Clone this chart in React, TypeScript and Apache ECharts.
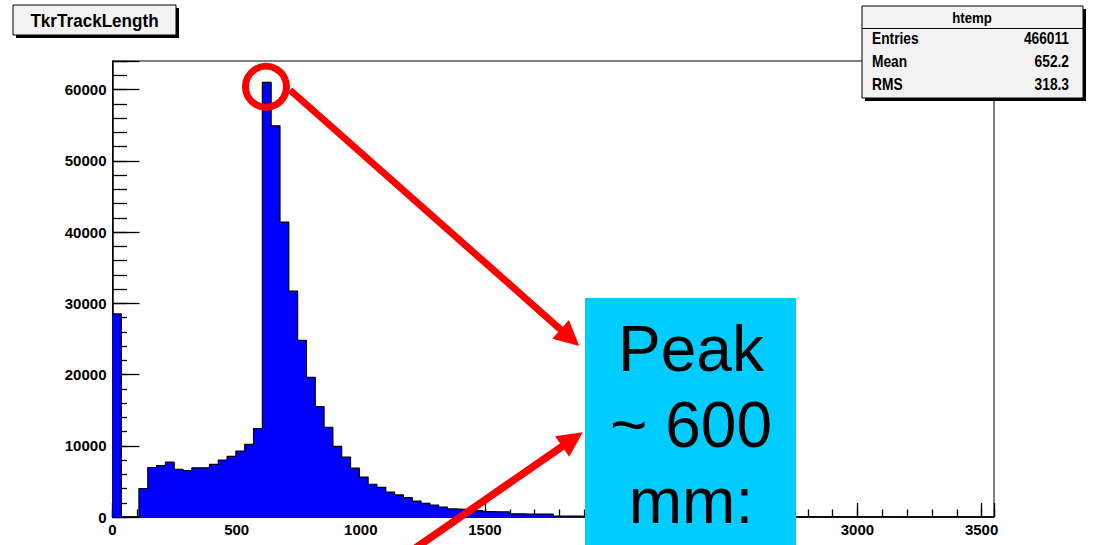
import React, { useEffect, useRef } from "react";
import * as echarts from "echarts";

// Histogram "TkrTrackLength": 100 bins over [0, 3550]
const histRange = [0, 3550];
const binCounts = [
  28500, 0, 0, 4000, 6950, 7200, 7700, 6700, 6500, 6900,
  6900, 7400, 8000, 8500, 9250, 10200, 12400, 61000, 54900, 41400,
  31700, 24800, 19600, 15500, 12600, 9900, 8400, 6850, 5600, 4600,
  4170, 3500, 3100, 2720, 2230, 1920, 1660, 1380, 1140, 1080,
  1000, 900, 760, 740, 720, 450, 430, 420, 410, 390,
  130, 120, 110, 100, 90, 85, 80, 70, 65, 60,
  55, 50, 45, 40, 38, 35, 32, 30, 28, 25,
  22, 20, 18, 16, 15, 14, 12, 11, 10, 9,
  8, 8, 7, 6, 6, 5, 5, 4, 4, 3,
  3, 3, 2, 2, 2, 1, 1, 1, 0, 0,
];
// 2000 and 2500 lie hidden under the note box in the reference
const xTickLabels = [0, 500, 1000, 1500, 3000, 3500];
const yTickLabels = [0, 10000, 20000, 30000, 40000, 50000, 60000];
const yMax = 64000;

const histTitle = "TkrTrackLength";
const statsTitle = "htemp";
const statsNames = ["Entries", "Mean", "RMS"];
const statsValues = ["466011", "652.2", "318.3"];
const noteLines = ["Peak", "~ 600", "mm:"];

const FONT = "'Liberation Sans', Arial, sans-serif";

function arrow(x0: number, y0: number, tx: number, ty: number, headLen: number, halfW: number, width: number) {
  const dx = tx - x0;
  const dy = ty - y0;
  const L = Math.hypot(dx, dy);
  const ux = dx / L;
  const uy = dy / L;
  const bx = tx - ux * headLen;
  const by = ty - uy * headLen;
  const px = -uy;
  const py = ux;
  return [
    {
      type: "line",
      z: 100,
      shape: { x1: x0, y1: y0, x2: bx + ux * 2, y2: by + uy * 2 },
      style: { stroke: "#ff0000", lineWidth: width },
    },
    {
      type: "polygon",
      z: 101,
      shape: {
        points: [
          [tx, ty],
          [bx + px * halfW, by + py * halfW],
          [bx - px * halfW, by - py * halfW],
        ],
      },
      style: { fill: "#ff0000" },
    },
  ];
}

export default function App() {
  const ref = useRef<HTMLDivElement>(null);

  useEffect(() => {
    if (!ref.current) return;
    const chart = echarts.init(ref.current, null, { renderer: "svg" });

    const binW = (histRange[1] - histRange[0]) / binCounts.length;
    const stepData: number[][] = binCounts.map((v, i) => [histRange[0] + i * binW, v]);
    stepData.push([histRange[1], binCounts[binCounts.length - 1]]);

    const labelFont = { fontFamily: FONT, fontWeight: "bold" as const, color: "#000" };

    const statsRows: any[] = [];
    statsNames.forEach((n, i) => {
      statsRows.push({
        type: "text",
        z: 112,
        x: 872,
        y: 38 + i * 23,
        scaleX: 0.86,
        style: { text: n, fontFamily: FONT, fontWeight: "bold", fontSize: 16, fill: "#000", align: "left", verticalAlign: "middle" },
      });
      statsRows.push({
        type: "text",
        z: 112,
        x: 1069,
        y: 38 + i * 23,
        scaleX: 0.86,
        style: { text: statsValues[i], fontFamily: FONT, fontWeight: "bold", fontSize: 16, fill: "#000", align: "right", verticalAlign: "middle" },
      });
    });

    const noteTexts = noteLines.map((t, i) => ({
      type: "text",
      z: 121,
      x: 691,
      y: 348.5 + i * 76.3,
      style: { text: t, fontFamily: FONT, fontSize: 64, fill: "#000", align: "center", verticalAlign: "middle" },
    }));

    chart.setOption({
      animation: false,
      backgroundColor: "#fff",
      grid: {
        left: 112.5,
        right: 101,
        top: 61,
        bottom: 28,
        show: true,
        borderColor: "#000",
        borderWidth: 1,
        backgroundColor: "#fff",
      },
      xAxis: [
        {
          type: "value",
          min: histRange[0],
          max: histRange[1],
          interval: 500,
          position: "bottom",
          axisLine: { show: true, lineStyle: { color: "#000", width: 1.5 } },
          axisTick: { show: true, inside: true, length: 14, lineStyle: { color: "#000", width: 1.3 } },
          axisLabel: {
            ...labelFont,
            fontSize: 15,
            margin: 5,
            formatter: (v: number) => (xTickLabels.includes(v) ? String(v) : ""),
          },
          splitLine: { show: false },
        },
        {
          type: "value",
          min: histRange[0],
          max: histRange[1],
          interval: 100,
          position: "bottom",
          axisLine: { show: false },
          axisTick: { show: true, inside: true, length: 7.5, lineStyle: { color: "#000", width: 1.3 } },
          axisLabel: { show: false },
          splitLine: { show: false },
        },
      ],
      yAxis: [
        {
          type: "value",
          min: 0,
          max: yMax,
          interval: 10000,
          position: "left",
          axisLine: { show: true, lineStyle: { color: "#000", width: 1.5 } },
          axisTick: { show: true, inside: true, length: 27, lineStyle: { color: "#000", width: 1.3 } },
          axisLabel: {
            ...labelFont,
            fontSize: 15,
            margin: 6,
            formatter: (v: number) => (yTickLabels.includes(v) ? String(v) : ""),
          },
          splitLine: { show: false },
        },
        {
          type: "value",
          min: 0,
          max: yMax,
          interval: 2000,
          position: "left",
          axisLine: { show: false },
          axisTick: { show: true, inside: true, length: 14.5, lineStyle: { color: "#000", width: 1.3 } },
          axisLabel: { show: false },
          splitLine: { show: false },
        },
      ],
      series: [
        {
          type: "line",
          xAxisIndex: 0,
          yAxisIndex: 0,
          step: "end",
          symbol: "none",
          data: stepData,
          lineStyle: { color: "#000", width: 1.2 },
          areaStyle: { color: "#0000ff", opacity: 1 },
          z: 3,
        },
      ],
      graphic: [
        // title box
        { type: "rect", z: 110, shape: { x: 16, y: 8, width: 163, height: 30 }, style: { fill: "#000" } },
        { type: "rect", z: 111, shape: { x: 13, y: 5, width: 163, height: 30 }, style: { fill: "#f2f2f2", stroke: "#000", lineWidth: 1 } },
        {
          type: "text",
          z: 112,
          x: 94.5,
          y: 21,
          scaleX: 0.9,
          style: { text: histTitle, fontFamily: FONT, fontWeight: "bold", fontSize: 19, fill: "#000", align: "center", verticalAlign: "middle" },
        },
        // stats box
        { type: "rect", z: 110, shape: { x: 865, y: 9, width: 221, height: 92 }, style: { fill: "#000" } },
        { type: "rect", z: 111, shape: { x: 862, y: 6, width: 221, height: 92 }, style: { fill: "#f2f2f2", stroke: "#000", lineWidth: 1 } },
        { type: "line", z: 112, shape: { x1: 862, y1: 28.5, x2: 1083, y2: 28.5 }, style: { stroke: "#000", lineWidth: 1 } },
        {
          type: "text",
          z: 112,
          x: 972,
          y: 17.5,
          scaleX: 0.88,
          style: { text: statsTitle, fontFamily: FONT, fontWeight: "bold", fontSize: 15, fill: "#000", align: "center", verticalAlign: "middle" },
        },
        ...statsRows,
        // red circle
        { type: "circle", z: 100, shape: { cx: 266, cy: 86.7, r: 20.5 }, style: { fill: "none", stroke: "#ff0000", lineWidth: 7 } },
        // arrows
        ...arrow(290, 90, 579.3, 346, 25, 12.5, 7),
        // cyan note box
        { type: "rect", z: 120, shape: { x: 585, y: 298, width: 211, height: 260 }, style: { fill: "#00ccff" } },
        ...noteTexts,
        ...arrow(404, 556, 582.7, 432.3, 25, 12.5, 7.5),
      ],
    });

    return () => chart.dispose();
  }, []);

  return (
    <div
      ref={ref}
      style={{ position: "fixed", left: 0, top: 0, width: 1095, height: 545 }}
    />
  );
}
